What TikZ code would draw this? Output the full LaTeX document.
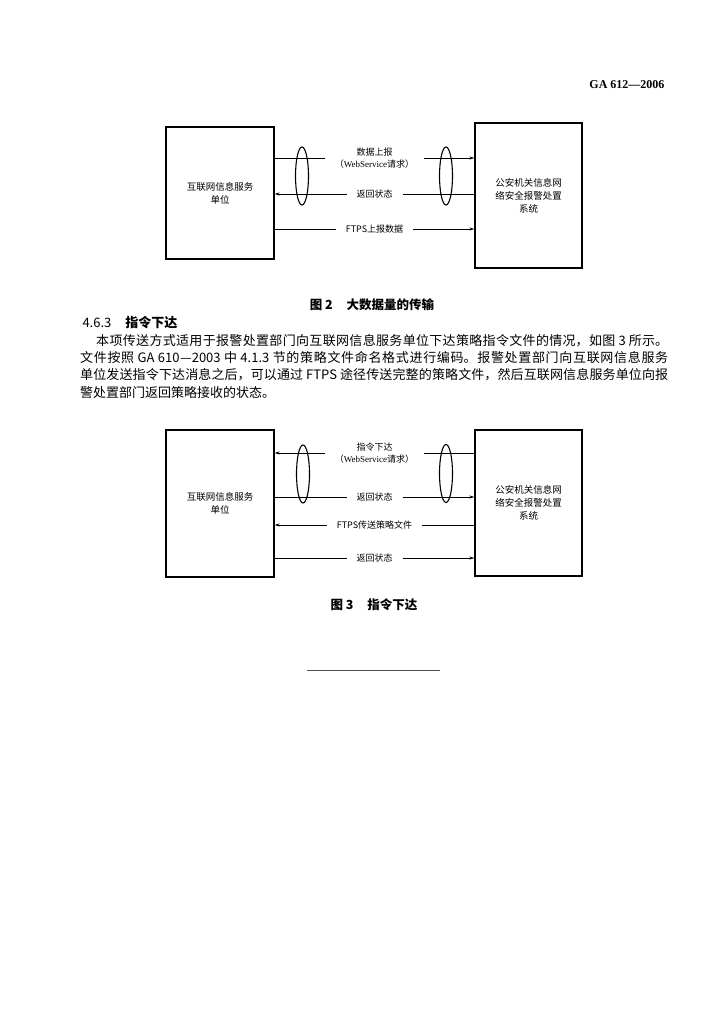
\documentclass[tikz,border=0pt]{standalone}
\usepackage{fontspec}
\setmainfont{Liberation Serif}
\newfontfamily\cjk{Noto Sans CJK SC}
\usetikzlibrary{arrows.meta}
\XeTeXlinebreaklocale "zh"
\XeTeXlinebreakskip=0pt plus 2pt
\tikzset{
  >={Stealth[length=5pt,width=3pt]},
  unit/.style={draw,line width=1.2pt,inner sep=0pt,align=center,
    font=\cjk\fontsize{9.5}{13}\selectfont},
  msg/.style={fill=white,inner xsep=10pt,inner ysep=1pt,align=center,
    font=\cjk\fontsize{9}{12}\selectfont},
  link/.style={->,line width=0.7pt},
  bundle/.style={line width=1.1pt},
  caption/.style={font=\cjk\bfseries\fontsize{12.5}{14}\selectfont},
}

\begin{document}
\begin{tikzpicture}[x=1pt,y=-1pt]
  \useasboundingbox (0,0) rectangle (726,1024);
  \node[anchor=east,font=\bfseries\fontsize{12}{14}\selectfont] (std) at (668,85) {GA 612—2006};

  % figure 2
  \node[unit,minimum width=108pt,minimum height=132pt] (isp2) at (220,193) {互联网信息服务\\单位};
  \node[unit,minimum width=107pt,minimum height=145pt] (pol2) at (528.5,195.5) {公安机关信息网\\络安全报警处置\\系统};
  \draw[link] (isp2.east |- 0,158) -- (pol2.west |- 0,158)
    node[msg,midway] {数据上报\\（{\rmfamily WebService}请求）};
  \draw[link] (pol2.west |- 0,194) -- (isp2.east |- 0,194) node[msg,midway] {返回状态};
  \draw[link] (isp2.east |- 0,229) -- (pol2.west |- 0,229) node[msg,midway] {FTPS上报数据};
  \draw[bundle] (302,176) ellipse [x radius=6.5pt,y radius=29pt];
  \draw[bundle] (446,176) ellipse [x radius=6.5pt,y radius=29pt];
  \node[caption] (cap2) at (372,305) {图 2\hspace{14pt}大数据量的传输};

  % text
  \node[anchor=west,font=\cjk\fontsize{13}{15}\selectfont] (sec) at (79,323) {4.6.3\hspace{14pt}{\bfseries 指令下达}};
  \node[anchor=north west,text width=588pt,align=justify,inner sep=0pt,
    font=\cjk\fontsize{13}{17.3}\selectfont] (para) at (80,334)
    {\hspace*{16pt}本项传送方式适用于报警处置部门向互联网信息服务单位下达策略指令文件的情况，如图 3 所示。\linebreak
     文件按照 GA 610—2003 中 4.1.3 节的策略文件命名格式进行编码。报警处置部门向互联网信息服务\linebreak
     单位发送指令下达消息之后，可以通过 FTPS 途径传送完整的策略文件，然后互联网信息服务单位向报\linebreak
     警处置部门返回策略接收的状态。};

  % figure 3
  \node[unit,minimum width=108pt,minimum height=147pt] (isp3) at (220,503.5) {互联网信息服务\\单位};
  \node[unit,minimum width=107pt,minimum height=146pt] (pol3) at (528.5,503) {公安机关信息网\\络安全报警处置\\系统};
  \draw[link] (pol3.west |- 0,453) -- (isp3.east |- 0,453)
    node[msg,midway] {指令下达\\（{\rmfamily WebService}请求）};
  \draw[link] (isp3.east |- 0,497) -- (pol3.west |- 0,497) node[msg,midway] {返回状态};
  \draw[link] (pol3.west |- 0,525) -- (isp3.east |- 0,525) node[msg,midway] {FTPS传送策略文件};
  \draw[link] (isp3.east |- 0,558) -- (pol3.west |- 0,558) node[msg,midway] {返回状态};
  \draw[bundle] (303,474) ellipse [x radius=6.5pt,y radius=29pt];
  \draw[bundle] (446,473.5) ellipse [x radius=6.5pt,y radius=29pt];
  \node[caption] (cap3) at (374,605) {图 3\hspace{14pt}指令下达};

  \draw[black!70,line width=1pt] (307,670) -- (440,670);
\end{tikzpicture}
\end{document}
